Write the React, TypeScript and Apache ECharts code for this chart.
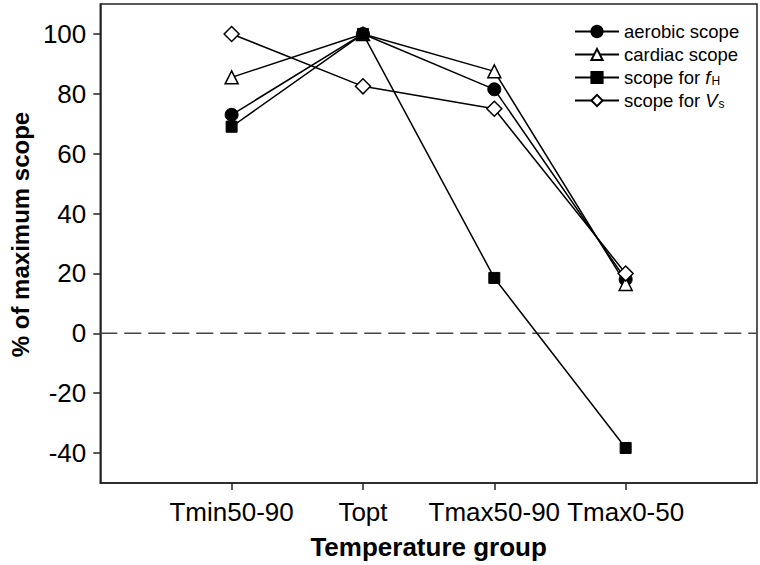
import React, { useEffect, useRef } from "react";
import * as echarts from "echarts";

const categories = ["Tmin50-90", "Topt", "Tmax50-90", "Tmax0-50"];
const xPositions = [1, 2, 3, 4];
const aerobicScope = [73, 100, 81.5, 18];
const cardiacScope = [85.5, 100, 87.5, 16.5];
const scopeFH = [69, 100, 18.5, -38.3];
const scopeVs = [100, 82.5, 75, 20];
const yTicks = [-40, -20, 0, 20, 40, 60, 80, 100];
const xRange = [0, 5];
const zeroLevel = 0;
const seriesNames = ["aerobic scope", "cardiac scope", "scope for fH", "scope for Vs"];

const FONT = "'Liberation Sans', Arial, Helvetica, sans-serif";

export default function App() {
  const ref = useRef<HTMLDivElement>(null);
  useEffect(() => {
    document.body.style.margin = "0";
    const chart = echarts.init(ref.current!, null, { renderer: "svg" });
    const toData = (vals: number[]) => xPositions.map((x, i) => [x, vals[i]]);
    const lineStyle = { color: "#000", width: 1.5 };
    const filled = { color: "#000", borderColor: "#000", borderWidth: 1 };
    const hollow = { color: "#fff", borderColor: "#000", borderWidth: 1.5 };
    chart.setOption({
      animation: false,
      textStyle: { fontFamily: FONT },
      grid: {
        left: 90,
        right: 3,
        top: 4,
        bottom: 81,
        show: true,
        borderColor: "#222",
        borderWidth: 1.5,
      },
      legend: {
        orient: "vertical",
        left: 569,
        top: 17,
        itemWidth: 44,
        itemHeight: 14,
        itemGap: 4,
        data: seriesNames,
        formatter: (name: string) => {
          if (name === "scope for fH") return "{t|scope for }{i|f}{s|H}";
          if (name === "scope for Vs") return "{t|scope for }{i|V}{s|s}";
          return "{t|" + name + "}";
        },
        textStyle: {
          fontFamily: FONT,
          color: "#000",
          rich: {
            t: { fontSize: 18.5, lineHeight: 19, fontFamily: FONT, color: "#000" },
            i: { fontSize: 18.5, lineHeight: 19, fontStyle: "italic", fontFamily: FONT, color: "#000" },
            s: { fontSize: 12, lineHeight: 12, verticalAlign: "bottom", fontFamily: FONT, color: "#000", padding: [0, 0, 0, 1] },
          },
        },
      },
      xAxis: {
        type: "value",
        min: xRange[0],
        max: xRange[1],
        name: "Temperature group",
        nameLocation: "middle",
        nameGap: 51,
        nameTextStyle: { fontSize: 26, fontWeight: "bold", color: "#000", fontFamily: FONT },
        axisLine: { onZero: false, lineStyle: { color: "#222", width: 1.5 } },
        axisTick: { show: true, length: 7, customValues: xPositions, lineStyle: { color: "#222", width: 1.5 } },
        axisLabel: {
          customValues: xPositions,
          formatter: (v: number) => categories[Math.round(v) - 1] ?? "",
          fontSize: 26,
          color: "#000",
          margin: 16,
          fontFamily: FONT,
        },
        splitLine: { show: false },
      },
      yAxis: {
        type: "value",
        min: -50,
        max: 110,
        name: "% of maximum scope",
        nameLocation: "middle",
        nameGap: 62,
        nameTextStyle: { fontSize: 24, fontWeight: "bold", color: "#000", fontFamily: FONT, padding: [0, 0, 0, 18] },
        axisLine: { show: true, onZero: false, lineStyle: { color: "#222", width: 1.5 } },
        axisTick: { show: true, length: 7, customValues: yTicks, lineStyle: { color: "#222", width: 1.5 } },
        axisLabel: { customValues: yTicks, fontSize: 26, color: "#000", margin: 14, fontFamily: FONT },
        splitLine: { show: false },
      },
      series: [
        {
          name: "zero",
          type: "line",
          data: xRange.map((x) => [x, zeroLevel]),
          symbol: "none",
          silent: true,
          z: 1,
          lineStyle: { color: "#444", width: 1.5, type: [17, 7] },
        },
        {
          name: seriesNames[0],
          type: "line",
          data: toData(aerobicScope),
          symbol: "circle",
          symbolSize: 13,
          lineStyle,
          itemStyle: filled,
        },
        {
          name: seriesNames[1],
          type: "line",
          data: toData(cardiacScope),
          symbol: "triangle",
          symbolSize: 13,
          lineStyle,
          itemStyle: hollow,
        },
        {
          name: seriesNames[2],
          type: "line",
          data: toData(scopeFH),
          symbol: "rect",
          symbolSize: 11,
          lineStyle,
          itemStyle: filled,
        },
        {
          name: seriesNames[3],
          type: "line",
          data: toData(scopeVs),
          symbol: "diamond",
          symbolSize: 15,
          lineStyle,
          itemStyle: hollow,
        },
      ],
    });
    return () => chart.dispose();
  }, []);
  return <div ref={ref} style={{ width: 760, height: 565 }} />;
}
